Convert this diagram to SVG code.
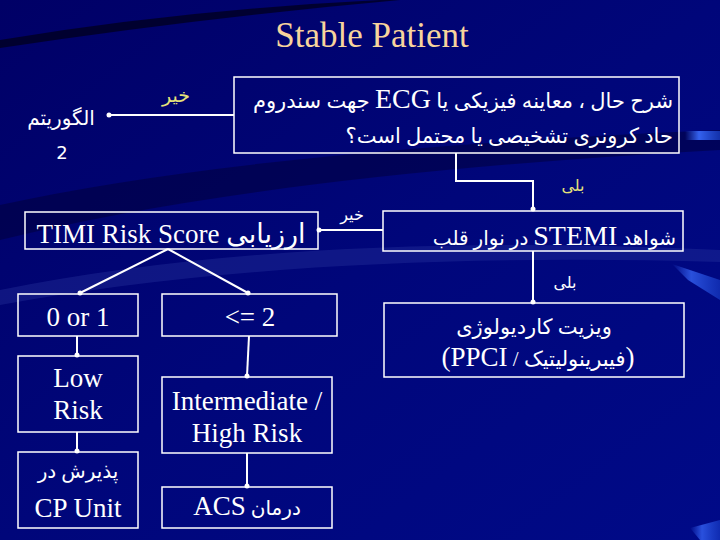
<svg xmlns="http://www.w3.org/2000/svg" width="720" height="540" viewBox="0 0 720 540">
<defs>
<linearGradient id="bg" x1="0" y1="0" x2="1" y2="1">
<stop offset="0" stop-color="#000066"/>
<stop offset="0.5" stop-color="#00067a"/>
<stop offset="1" stop-color="#000a88"/>
</linearGradient>
<linearGradient id="streak" x1="0" y1="0" x2="1" y2="0">
<stop offset="0" stop-color="#3a6cff" stop-opacity="0"/>
<stop offset="0.4" stop-color="#3a6cff" stop-opacity="0.9"/>
<stop offset="1" stop-color="#2050e0" stop-opacity="0.6"/>
</linearGradient>
<marker id="dot" viewBox="0 0 6 6" refX="3" refY="3" markerWidth="6" markerHeight="6" markerUnits="userSpaceOnUse">
<circle cx="3" cy="3" r="2.5" fill="#ffffff"/>
</marker>
<style>
.box{fill:none;stroke:#ffffff;stroke-width:1.5}
.ln{fill:none;stroke:#ffffff;stroke-width:2}
.t{fill:#ffffff;font-family:"Liberation Serif","Times New Roman","DejaVu Serif","DejaVu Sans",serif}
.fa{fill:#ffffff;font-family:"DejaVu Sans",sans-serif}
.y{fill:#e6e27a;font-family:"DejaVu Sans",sans-serif}
.title{fill:#f7d49c;font-family:"Liberation Serif","Times New Roman","DejaVu Serif",serif}
</style>
</defs>
<rect width="720" height="540" fill="url(#bg)"/>
<path d="M0 40 Q 180 10 380 0 L 400 0 Q 200 18 0 48 Z" fill="#000020" opacity="0.8"/>
<path d="M0 205 Q 250 150 720 130 L 720 150 Q 260 175 0 240 Z" fill="#000030" opacity="0.45"/>
<path d="M0 290 Q 300 230 720 250 L 720 262 Q 300 250 0 305 Z" fill="#2a3aa0" opacity="0.35"/>
<rect x="685" y="131" width="35" height="9" fill="url(#streak)"/>
<path d="M672 264 L720 280 L720 300 L688 280 Z" fill="url(#streak)" opacity="0.8"/>
<path d="M690 528 L720 520 L720 540 L700 540 Z" fill="url(#streak)" opacity="0.8"/>

<text class="title" x="372" y="47" text-anchor="middle" font-size="35">Stable Patient</text>

<g id="connectors">
<line class="ln" x1="234" y1="115" x2="109" y2="115" marker-end="url(#dot)"/>
<polyline class="ln" points="456,153 456,181 533,181 533,209" marker-end="url(#dot)"/>
<line class="ln" x1="383" y1="230" x2="319" y2="230" marker-end="url(#dot)"/>
<line class="ln" x1="533" y1="251" x2="533" y2="302" marker-end="url(#dot)"/>
<line class="ln" x1="168" y1="249" x2="80" y2="293" marker-end="url(#dot)"/>
<line class="ln" x1="168" y1="249" x2="248" y2="293" marker-end="url(#dot)"/>
<line class="ln" x1="77" y1="336" x2="77" y2="355" marker-end="url(#dot)"/>
<line class="ln" x1="77" y1="432" x2="77" y2="451" marker-end="url(#dot)"/>
<line class="ln" x1="249" y1="336" x2="247" y2="376" marker-end="url(#dot)"/>
<line class="ln" x1="247" y1="453" x2="247" y2="486" marker-end="url(#dot)"/>
<text class="y" x="176" y="102" text-anchor="middle" font-size="19">خیر</text>
<text class="fa" x="61" y="125" text-anchor="middle" font-size="20">الگوریتم</text>
<text class="fa" x="62" y="159" text-anchor="middle" font-size="18">2</text>
<text class="y" x="573" y="191" text-anchor="middle" font-size="16">بلی</text>
<text class="fa" x="352" y="220" text-anchor="middle" font-size="16">خیر</text>
<text class="fa" x="565" y="288" text-anchor="middle" font-size="16">بلی</text>
</g>

<g id="n-question">
<rect class="box" x="234" y="77" width="445" height="76"/>
<text class="t" x="673" y="108" text-anchor="start" direction="rtl" font-size="21">شرح حال ، معاینه فیزیکی یا <tspan font-size="28">ECG</tspan> جهت سندروم</text>
<text class="t" x="673" y="143" text-anchor="start" direction="rtl" font-size="21">حاد کرونری تشخیصی یا محتمل است؟</text>
</g>

<g id="n-stemi">
<rect class="box" x="383" y="211" width="300" height="40"/>
<text class="t" x="676" y="245" text-anchor="start" direction="rtl" font-size="20">شواهد <tspan font-size="28">STEMI</tspan> در نوار قلب</text>
</g>

<g id="n-timi">
<rect class="box" x="25" y="212" width="293" height="37"/>
<text class="t" x="171" y="243" text-anchor="middle" direction="rtl" font-size="27">ارزیابی TIMI Risk Score</text>
</g>

<g id="n-ppci">
<rect class="box" x="384" y="303" width="300" height="74"/>
<text class="t" x="534" y="334" text-anchor="middle" direction="rtl" font-size="21">ویزیت کاردیولوژی</text>
<text class="t" x="538" y="366" text-anchor="middle" direction="rtl" font-size="27">(<tspan font-size="21">فیبرینولیتیک / </tspan>PPCI)</text>
</g>

<g id="n-01">
<rect class="box" x="18" y="294" width="120" height="42"/>
<text class="t" x="78" y="326" text-anchor="middle" font-size="27">0 or 1</text>
</g>

<g id="n-le2">
<rect class="box" x="162" y="294" width="175" height="42"/>
<text class="t" x="250" y="326" text-anchor="middle" font-size="27">&lt;= 2</text>
</g>

<g id="n-low">
<rect class="box" x="18" y="356" width="120" height="76"/>
<text class="t" x="78" y="387" text-anchor="middle" font-size="27">Low</text>
<text class="t" x="78" y="419" text-anchor="middle" font-size="27">Risk</text>
</g>

<g id="n-inter">
<rect class="box" x="162" y="377" width="170" height="76"/>
<text class="t" x="247" y="410" text-anchor="middle" font-size="27">Intermediate /</text>
<text class="t" x="247" y="442" text-anchor="middle" font-size="27">High Risk</text>
</g>

<g id="n-cp">
<rect class="box" x="18" y="452" width="120" height="76"/>
<text class="t" x="78" y="478" text-anchor="middle" direction="rtl" font-size="20">پذیرش در</text>
<text class="t" x="78" y="517" text-anchor="middle" font-size="27">CP Unit</text>
</g>

<g id="n-acs">
<rect class="box" x="162" y="487" width="170" height="41"/>
<text class="t" x="247" y="515" text-anchor="middle" direction="rtl" font-size="27"><tspan font-size="20">درمان </tspan>ACS</text>
</g>
</svg>
